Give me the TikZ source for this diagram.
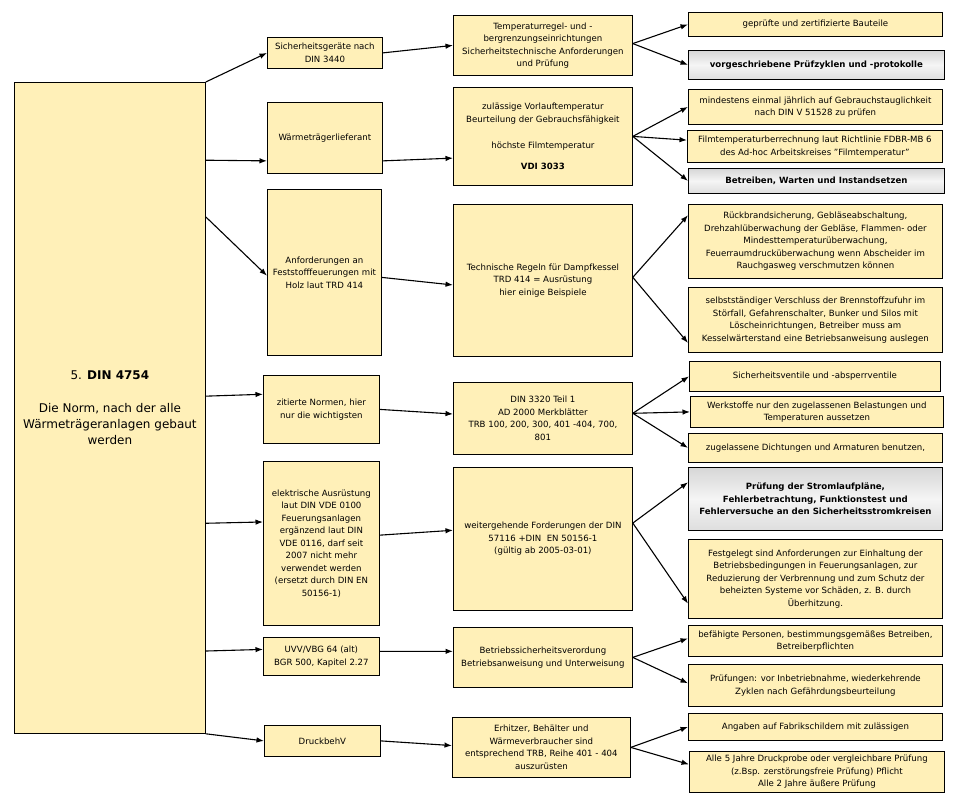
\documentclass[tikz,border=0pt]{standalone}
\usepackage{fontspec}
\setmainfont{DejaVu Sans}
\usetikzlibrary{calc,arrows.meta}
\definecolor{boxy}{RGB}{255,240,184}
\tikzset{
  bx/.style={draw=black, line width=0.8pt, fill=boxy, align=center, inner sep=1.5pt,
    anchor=north west, font=\fontsize{8.6}{12.5}\selectfont},
  gbx/.style={bx, fill=none, top color=gray!32, bottom color=gray!26, middle color=gray!8},
  arr/.style={line width=1.1pt, -{Latex[length=7.5pt,width=5.5pt]}},
}
\begin{document}
\begin{tikzpicture}[x=1pt,y=-1pt]
\useasboundingbox (0,0) rectangle (959,799);
% main
\node[bx, minimum width=191pt, minimum height=651pt, font=\fontsize{12}{16}\selectfont] (main) at (14,82)
 {5. \textbf{DIN 4754}\\[17pt] Die Norm, nach der alle\\ Wärmeträgeranlagen gebaut\\ werden};
% level 2
\node[bx, minimum width=115pt, minimum height=31pt] (s2) at (267,37) {Sicherheitsgeräte nach\\ DIN 3440};
\node[bx, minimum width=115pt, minimum height=71pt] (w2) at (267,102) {Wärmeträgerlieferant};
\node[bx, minimum width=114pt, minimum height=166pt] (a2) at (267,189) {Anforderungen an\\ Feststofffeuerungen mit\\ Holz laut TRD 414};
\node[bx, minimum width=116pt, minimum height=68pt] (z2) at (263,375) {zitierte Normen, hier\\ nur die wichtigsten};
\node[bx, minimum width=116pt, minimum height=164pt] (e2) at (263,461) {elektrische Ausrüstung\\ laut DIN VDE 0100\\ Feuerungsanlagen\\ ergänzend laut DIN\\ VDE 0116, darf seit\\ 2007 nicht mehr\\ verwendet werden\\ (ersetzt durch DIN EN\\ 50156-1)};
\node[bx, minimum width=116pt, minimum height=38pt] (u2) at (263,637) {UVV/VBG 64 (alt)\\ BGR 500, Kapitel 2.27};
\node[bx, minimum width=116pt, minimum height=31pt] (d2) at (264,725) {DruckbehV};
% level 3
\node[bx, minimum width=179pt, minimum height=60pt] (t3) at (453,15) {Temperaturregel- und -\\ bergrenzungseinrichtungen\\ Sicherheitstechnische Anforderungen\\ und Prüfung};
\node[bx, minimum width=179pt, minimum height=98pt] (v3) at (453,87) {zulässige Vorlauftemperatur\\ Beurteilung der Gebrauchsfähigkeit\\[14pt] höchste Filmtemperatur\\[8pt] \textbf{VDI 3033}};
\node[bx, minimum width=179pt, minimum height=152pt] (r3) at (453,204) {Technische Regeln für Dampfkessel\\ TRD 414 = Ausrüstung\\ hier einige Beispiele};
\node[bx, minimum width=179pt, minimum height=72pt] (n3) at (453,382) {DIN 3320 Teil 1\\ AD 2000 Merkblätter\\ TRB 100, 200, 300, 401 -404, 700,\\ 801};
\node[bx, minimum width=179pt, minimum height=143pt] (f3) at (453,467) {weitergehende Forderungen der DIN\\ 57116 +DIN\ \ EN 50156-1\\ (gültig ab 2005-03-01)};
\node[bx, minimum width=179pt, minimum height=60pt] (b3) at (453,627) {Betriebssicherheitsverordung\\ Betriebsanweisung und Unterweisung};
\node[bx, minimum width=178pt, minimum height=60pt] (h3) at (452,717) {Erhitzer, Behälter und\\ Wärmeverbraucher sind\\ entsprechend TRB, Reihe 401 - 404\\ auszurüsten};
% level 4
\node[bx, minimum width=254pt, minimum height=24pt] (g4a) at (688,12) {geprüfte und zertifizierte Bauteile};
\node[gbx, minimum width=256pt, minimum height=29pt] (g4b) at (688,50) {\textbf{vorgeschriebene Prüfzyklen und -protokolle}};
\node[bx, minimum width=254pt, minimum height=35pt] (v4a) at (688,89) {mindestens einmal jährlich auf Gebrauchstauglichkeit\\ nach DIN V 51528 zu prüfen};
\node[bx, minimum width=255pt, minimum height=32pt] (v4b) at (687,130) {Filmtemperaturberrechnung laut Richtlinie FDBR-MB 6\\ des Ad-hoc Arbeitskreises \symbol{34}Filmtemperatur\symbol{34}};
\node[gbx, minimum width=256pt, minimum height=25pt] (v4c) at (688,168) {\textbf{Betreiben, Warten und Instandsetzen}};
\node[bx, minimum width=254pt, minimum height=74pt] (r4a) at (688,204) {Rückbrandsicherung, Gebläseabschaltung,\\ Drehzahlüberwachung der Gebläse, Flammen- oder\\ Mindesttemperaturüberwachung,\\ Feuerraumdrucküberwachung wenn Abscheider im\\ Rauchgasweg verschmutzen können};
\node[bx, minimum width=254pt, minimum height=65pt] (r4b) at (688,287) {selbstständiger Verschluss der Brennstoffzufuhr im\\ Störfall, Gefahrenschalter, Bunker und Silos mit\\ Löscheinrichtungen, Betreiber muss am\\ Kesselwärterstand eine Betriebsanweisung auslegen};
\node[bx, minimum width=251pt, minimum height=30pt] (n4a) at (689,361) {Sicherheitsventile und -absperrventile};
\node[bx, minimum width=253pt, minimum height=31pt] (n4b) at (690,396) {Werkstoffe nur den zugelassenen Belastungen und\\ Temperaturen aussetzen};
\node[bx, minimum width=254pt, minimum height=29pt] (n4c) at (688,433) {zugelassene Dichtungen und Armaturen benutzen,};
\node[gbx, minimum width=254pt, minimum height=63pt] (f4a) at (688,467) {\textbf{Prüfung der Stromlaufpläne,}\\ \textbf{Fehlerbetrachtung, Funktionstest und}\\ \textbf{Fehlerversuche an den Sicherheitsstromkreisen}};
\node[bx, minimum width=254pt, minimum height=79pt] (f4b) at (688,539) {Festgelegt sind Anforderungen zur Einhaltung der\\ Betriebsbedingungen in Feuerungsanlagen, zur\\ Reduzierung der Verbrennung und zum Schutz der\\ beheizten Systeme vor Schäden, z. B. durch\\ Überhitzung.};
\node[bx, minimum width=254pt, minimum height=31pt] (b4a) at (688,625) {befähigte Personen, bestimmungsgemäßes Betreiben,\\ Betreiberpflichten};
\node[bx, minimum width=254pt, minimum height=42pt] (b4b) at (688,664) {Prüfungen: vor Inbetriebnahme, wiederkehrende\\ Zyklen nach Gefährdungsbeurteilung};
\node[bx, minimum width=254pt, minimum height=27pt] (h4a) at (688,713) {Angaben auf Fabrikschildern mit zulässigen};
\node[bx, minimum width=255pt, minimum height=41pt] (h4b) at (689,751) {Alle 5 Jahre Druckprobe oder vergleichbare Prüfung\\ (z.Bsp. zerstörungsfreie Prüfung) Pflicht\\ Alle 2 Jahre äußere Prüfung};
% level 1 -> 2
\draw[arr] (main.north east) -- (s2.west);
\draw[arr] ($(main.north east)!0.120!(main.south east)$) -- ($(w2.north west)!0.82!(w2.south west)$);
\draw[arr] ($(main.north east)!0.207!(main.south east)$) -- ($(a2.north west)!0.52!(a2.south west)$);
\draw[arr] ($(main.north east)!0.482!(main.south east)$) -- ($(z2.north west)!0.28!(z2.south west)$);
\draw[arr] ($(main.north east)!0.677!(main.south east)$) -- ($(e2.north west)!0.37!(e2.south west)$);
\draw[arr] ($(main.north east)!0.873!(main.south east)$) -- ($(u2.north west)!0.32!(u2.south west)$);
\draw[arr] (main.south east) -- (d2.west);
% level 2 -> 3
\draw[arr] (s2.east) -- (t3.west);
\draw[arr] ($(w2.north east)!0.82!(w2.south east)$) -- ($(v3.north west)!0.72!(v3.south west)$);
\draw[arr] ($(a2.north east)!0.53!(a2.south east)$) -- ($(r3.north west)!0.53!(r3.south west)$);
\draw[arr] (z2.east) -- ($(n3.north west)!0.44!(n3.south west)$);
\draw[arr] ($(e2.north east)!0.45!(e2.south east)$) -- ($(f3.north west)!0.44!(f3.south west)$);
\draw[arr] ($(u2.north east)!0.37!(u2.south east)$) -- ($(b3.north west)!0.40!(b3.south west)$);
\draw[arr] (d2.east) -- ($(h3.north west)!0.47!(h3.south west)$);
% level 3 -> 4
\draw[arr] ($(t3.north east)!0.47!(t3.south east)$) -- (g4a.west);
\draw[arr] ($(t3.north east)!0.47!(t3.south east)$) -- (g4b.west);
\draw[arr] (v3.east) -- (v4a.west);
\draw[arr] (v3.east) -- ($(v4b.north west)!0.31!(v4b.south west)$);
\draw[arr] (v3.east) -- (v4c.west);
\draw[arr] ($(r3.north east)!0.48!(r3.south east)$) -- ($(r4a.north west)!0.15!(r4a.south west)$);
\draw[arr] ($(r3.north east)!0.48!(r3.south east)$) -- ($(r4b.north west)!0.85!(r4b.south west)$);
\draw[arr] ($(n3.north east)!0.43!(n3.south east)$) -- (n4a.west);
\draw[arr] ($(n3.north east)!0.43!(n3.south east)$) -- (n4b.west);
\draw[arr] ($(n3.north east)!0.43!(n3.south east)$) -- (n4c.west);
\draw[arr] ($(f3.north east)!0.39!(f3.south east)$) -- ($(f4a.north west)!0.24!(f4a.south west)$);
\draw[arr] ($(f3.north east)!0.39!(f3.south east)$) -- ($(f4b.north west)!0.81!(f4b.south west)$);
\draw[arr] (b3.east) -- ($(b4a.north west)!0.42!(b4a.south west)$);
\draw[arr] (b3.east) -- ($(b4b.north west)!0.45!(b4b.south west)$);
\draw[arr] (h3.east) -- (h4a.west);
\draw[arr] (h3.east) -- ($(h4b.north west)!0.32!(h4b.south west)$);
\end{tikzpicture}
\end{document}
